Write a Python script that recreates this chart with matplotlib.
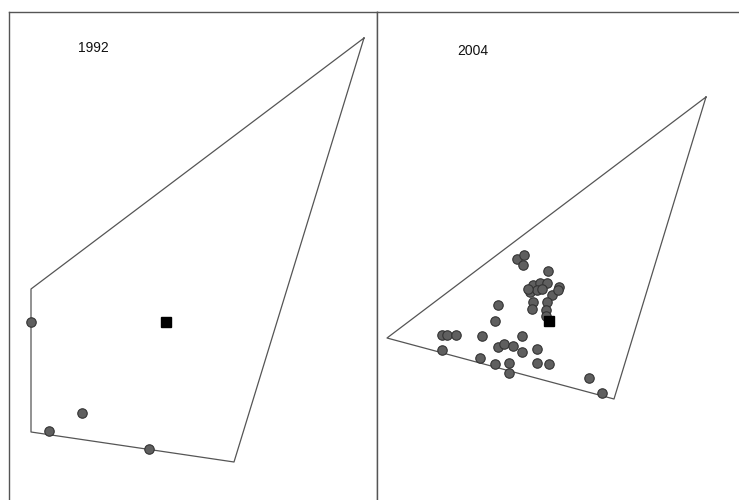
import matplotlib
matplotlib.use("Agg")
import matplotlib.pyplot as plt

# Panel labels
years = ["1992", "2004"]

# Left panel (1992): hull vertices, points, centroid (pixel-like units)
hull1_x = [364, 31, 31, 234, 364]
hull1_y = [38, 289, 432, 462, 38]
pts1_x = [31, 82, 49, 149]
pts1_y = [322, 413, 431, 449]
cen1_x = [166]
cen1_y = [322]

# Right panel (2004)
hull2_x = [706, 387, 614, 706]
hull2_y = [97, 338, 399, 97]
pts2_x = [517, 524, 523, 548, 533, 540, 547, 559, 530, 537, 552, 558, 547, 533, 532, 546,
          498, 495, 482, 522, 498, 504, 513, 522, 537, 480, 495, 509, 509, 537, 549, 589, 602,
          442, 447, 456, 442, 546, 542, 528]
pts2_y = [259, 255, 265, 271, 285, 283, 283, 287, 292, 290, 295, 290, 302, 302, 309, 310,
          305, 321, 336, 336, 347, 344, 346, 352, 349, 358, 364, 363, 373, 363, 364, 378, 393,
          335, 335, 335, 350, 316, 289, 289]
cen2_x = [549]
cen2_y = [321]

W, H = 739, 500
fig = plt.figure(figsize=(W / 100, H / 100), dpi=100)

line_col = "#555555"
pt_face = "#5f5f5f"
pt_edge = "#333333"

ax1 = fig.add_axes([9 / W, 0, (377 - 9) / W, (H - 12) / H])
ax2 = fig.add_axes([377 / W, 0, (W - 377 + 5) / W, (H - 12) / H])

ax1.set_xlim(9, 377)
ax1.set_ylim(H, 12)
ax2.set_xlim(377, W + 5)
ax2.set_ylim(H, 12)

for ax in (ax1, ax2):
    ax.set_xticks([])
    ax.set_yticks([])
    ax.spines["bottom"].set_visible(False)
    for s in ("top", "left", "right"):
        ax.spines[s].set_color(line_col)
        ax.spines[s].set_linewidth(1.0)
ax2.spines["right"].set_visible(False)

ax1.plot(hull1_x, hull1_y, color=line_col, lw=0.9)
ax1.plot(pts1_x, pts1_y, "o", ms=6.8, mfc=pt_face, mec=pt_edge, mew=0.8, ls="none")
ax1.plot(cen1_x, cen1_y, "s", ms=6.8, mfc="black", mec="black", ls="none")
ax1.text(93, 48, years[0], ha="center", va="center", fontsize=10,
         family="Liberation Sans", color="#111111")

ax2.plot(hull2_x, hull2_y, color=line_col, lw=0.9)
ax2.plot(pts2_x, pts2_y, "o", ms=6.8, mfc=pt_face, mec=pt_edge, mew=0.8, ls="none")
ax2.plot(cen2_x, cen2_y, "s", ms=6.8, mfc="black", mec="black", ls="none")
ax2.text(473, 51, years[1], ha="center", va="center", fontsize=10,
         family="Liberation Sans", color="#111111")

fig.savefig("out.png", dpi=100)
